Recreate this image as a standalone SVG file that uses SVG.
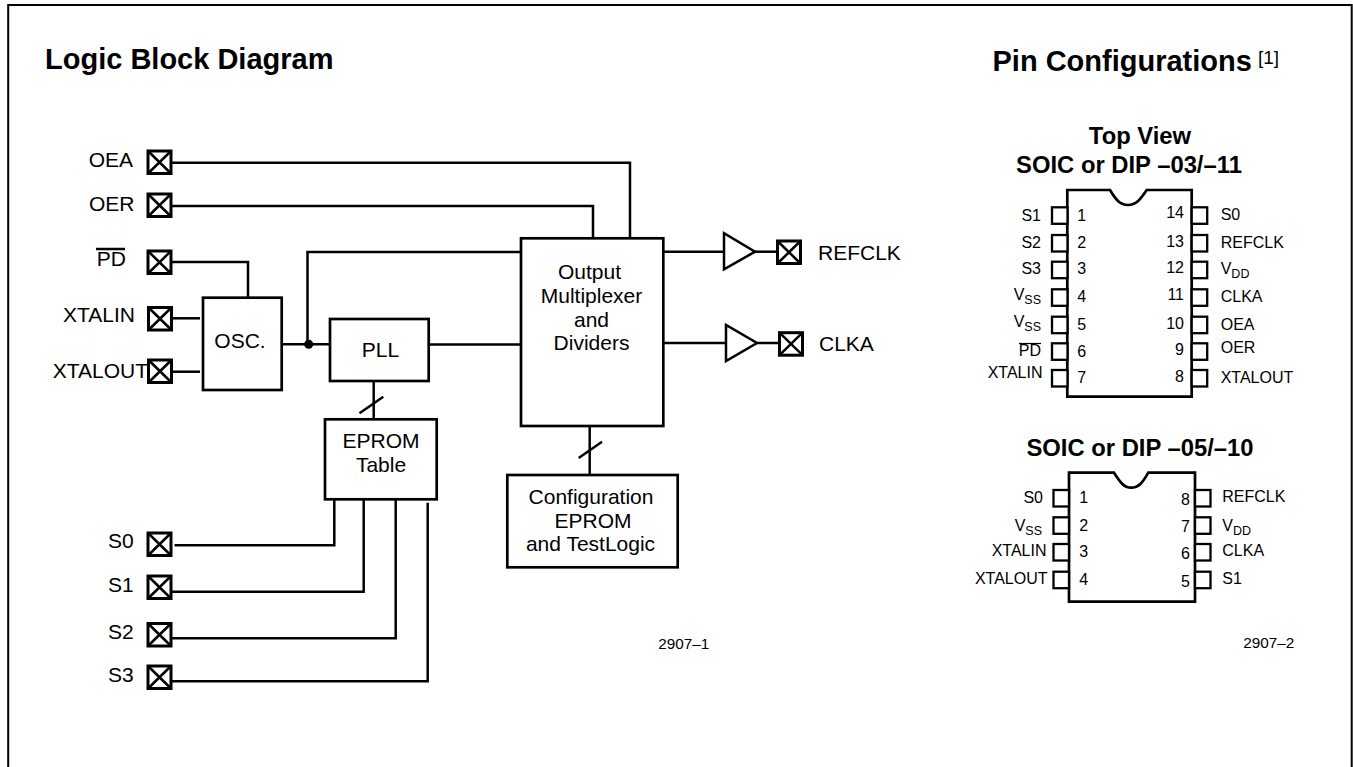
<svg xmlns="http://www.w3.org/2000/svg" width="1353" height="767" viewBox="0 0 1353 767">
<style>
text{font-family:"Liberation Sans",Arial,sans-serif;fill:#000}
.t{font-size:21px}
.c{text-anchor:middle}
.e{text-anchor:end}
.p{font-size:16px}
.n{font-size:15.3px}
.h{font-size:29px;font-weight:bold}
.h2{font-size:23.8px;font-weight:bold}
.b,.w{fill:#fff;stroke:#000;stroke-width:2.7}
.x rect{fill:#fff;stroke:#000;stroke-width:3}
.w{stroke-width:2.5}
.l,.x path{fill:none;stroke:#000;stroke-width:2.5}
.pin{fill:#fff;stroke:#000;stroke-width:2.3}
.s{font-size:12.5px}
</style>
<defs>
<g id="xp" class="x"><rect x="0" y="0" width="23" height="22.5"/><path d="M0 0L23 22.5M23 0L0 22.5"/></g>
<rect id="pn" class="pin" width="15.5" height="16.5"/>
</defs>
<rect x="8.2" y="5" width="1343.5" height="770" fill="#fff" stroke="#000" stroke-width="2"/>
<text class="h" x="45" y="69">Logic Block Diagram</text>
<text class="h" x="992.5" y="70.5">Pin Configurations</text>
<text x="1258" y="64" font-size="19">[1]</text>
<g id="connectors" class="l">
<path d="M171 162.7H630V238"/>
<path d="M171 206H593V238"/>
<path d="M171 262H248V298"/>
<path d="M172 318.3H200"/>
<path d="M172 371.7H200"/>
<path d="M282 344.3H330"/>
<path d="M307.5 344.3V252H521"/>
<path d="M429 344.5H521"/>
<path d="M373.7 381V419"/>
<path d="M359.5 413.3L383.3 396.7"/>
<path d="M174.5 545.3H334.3V499"/>
<path d="M171 591.7H363.7V499"/>
<path d="M171 638.3H395.7V498"/>
<path d="M171 681.3H427.7V502.7"/>
<path d="M663 251.7H724"/>
<path d="M755 251.7H777"/>
<path d="M663 343H726"/>
<path d="M757 343H779"/>
<path d="M589.7 426V475"/>
<path d="M578.7 458L602 441.7"/>
<circle cx="308.7" cy="344.3" r="4.5" fill="#000" stroke="none"/>
</g>
<g id="pin-oea"><text class="t e" x="133" y="167.3">OEA</text><use href="#xp" x="148" y="151"/></g>
<g id="pin-oer"><text class="t e" x="134.5" y="210.7">OER</text><use href="#xp" x="148" y="194"/></g>
<g id="pin-pd"><text class="t e" x="126" y="266">PD</text><path class="l" d="M96 249H125" stroke-width="1.5"/><use href="#xp" x="148" y="251"/></g>
<g id="pin-xtalin"><text class="t e" x="135" y="322">XTALIN</text><use href="#xp" x="148.5" y="307.5"/></g>
<g id="pin-xtalout"><text class="t e" x="148" y="378.3">XTALOUT</text><use href="#xp" x="148.5" y="360"/></g>
<g id="pin-s0"><text class="t e" x="133.7" y="548.3">S0</text><use href="#xp" x="148" y="533"/></g>
<g id="pin-s1"><text class="t e" x="133.7" y="591.7">S1</text><use href="#xp" x="148" y="576"/></g>
<g id="pin-s2"><text class="t e" x="133.7" y="639.3">S2</text><use href="#xp" x="148" y="623.5"/></g>
<g id="pin-s3"><text class="t e" x="133.7" y="682.3">S3</text><use href="#xp" x="148" y="666"/></g>
<g id="osc"><rect class="b" x="203" y="297.7" width="78.7" height="92.3"/><text class="t c" x="240" y="348.3">OSC.</text></g>
<g id="pll"><rect class="b" x="330" y="319" width="98.7" height="62"/><text class="t c" x="380.5" y="356.7">PLL</text></g>
<g id="eprom"><rect class="b" x="325" y="419.3" width="111.7" height="80"/><text class="t c" x="381" y="448.3">EPROM</text><text class="t c" x="381" y="471.7">Table</text></g>
<g id="mux"><rect class="b" x="521" y="238.3" width="142.3" height="187.7"/><text class="t c" x="589.5" y="279.3">Output</text><text class="t c" x="591.5" y="302.7">Multiplexer</text><text class="t c" x="591.5" y="326.7">and</text><text class="t c" x="591.5" y="350">Dividers</text></g>
<g id="config"><rect class="b" x="507.3" y="475" width="170.4" height="92.3"/><text class="t c" x="591" y="504">Configuration</text><text class="t c" x="593" y="527.7">EPROM</text><text class="t c" x="590.5" y="551">and TestLogic</text></g>
<g id="buf-refclk"><path class="w" d="M724 233.3V269.3L755 251.7Z"/></g>
<g id="buf-clka"><path class="w" d="M726 325V361L757 343Z"/></g>
<g id="pin-refclk"><use href="#xp" x="777.5" y="241"/><text class="t" x="818" y="260">REFCLK</text></g>
<g id="pin-clka"><use href="#xp" x="779.5" y="332.7"/><text class="t" x="819" y="351">CLKA</text></g>
<text class="n" x="658.3" y="648.7">2907–1</text>
<text class="h2 c" x="1140" y="144">Top View</text>
<text class="h2 c" x="1129" y="173.3">SOIC or DIP –03/–11</text>
<g id="chip14">
<path class="b" d="M1067.3 190H1110C1116 200 1120 205 1128 205C1136 205 1140 200 1146.7 190H1191.7V396.7H1067.3Z"/>
<use href="#pn" x="1052" y="207.3"/><use href="#pn" x="1052" y="235"/><use href="#pn" x="1052" y="261.7"/><use href="#pn" x="1052" y="289.3"/><use href="#pn" x="1052" y="316.7"/><use href="#pn" x="1052" y="343.3"/><use href="#pn" x="1052" y="370"/>
<use href="#pn" x="1191.7" y="207.3"/><use href="#pn" x="1191.7" y="235"/><use href="#pn" x="1191.7" y="261.7"/><use href="#pn" x="1191.7" y="289.3"/><use href="#pn" x="1191.7" y="316.7"/><use href="#pn" x="1191.7" y="343.3"/><use href="#pn" x="1191.7" y="370"/>
<g class="p">
<text class="p e" x="1041" y="220.7">S1</text><text class="p e" x="1041" y="247.7">S2</text><text class="p e" x="1041" y="274">S3</text>
<text class="p e" x="1041" y="300">V<tspan class="s" dy="4">SS</tspan></text><text class="p e" x="1041" y="327.3">V<tspan class="s" dy="4">SS</tspan></text>
<text class="p e" x="1041" y="356">PD</text><path class="l" d="M1019 343.5H1041" style="stroke-width:1.2"/>
<text class="p e" x="1042.5" y="378.3">XTALIN</text>
<text class="p" x="1077.3" y="220.7">1</text><text class="p" x="1077.3" y="248.3">2</text><text class="p" x="1077.3" y="274.3">3</text><text class="p" x="1077.3" y="302">4</text><text class="p" x="1077.3" y="330">5</text><text class="p" x="1077.3" y="356.7">6</text><text class="p" x="1077.3" y="383.3">7</text>
<text class="p e" x="1184" y="218.3">14</text><text class="p e" x="1184" y="246.7">13</text><text class="p e" x="1184" y="272.7">12</text><text class="p e" x="1184" y="300">11</text><text class="p e" x="1184" y="329">10</text><text class="p e" x="1184" y="355">9</text><text class="p e" x="1184" y="381.7">8</text>
<text class="p" x="1220.7" y="220">S0</text><text class="p" x="1220.7" y="247.7">REFCLK</text><text class="p" x="1220.7" y="274">V<tspan class="s" dy="4">DD</tspan></text><text class="p" x="1220.7" y="301.7">CLKA</text><text class="p" x="1220.7" y="330">OEA</text><text class="p" x="1220.7" y="352.7">OER</text><text class="p" x="1220.7" y="383.3">XTALOUT</text>
</g>
</g>
<text class="h2 c" x="1140" y="456">SOIC or DIP –05/–10</text>
<g id="chip8">
<path class="b" d="M1069 472.7H1114C1120 482 1124 487.7 1131 487.7C1139 487.7 1143 482 1148.3 472.7H1195V601.7H1069Z"/>
<use href="#pn" x="1053.5" y="490"/><use href="#pn" x="1053.5" y="517.3"/><use href="#pn" x="1053.5" y="544"/><use href="#pn" x="1053.5" y="571.7"/>
<use href="#pn" x="1195" y="490"/><use href="#pn" x="1195" y="517.3"/><use href="#pn" x="1195" y="544"/><use href="#pn" x="1195" y="571.7"/>
<text class="p e" x="1043" y="502.7">S0</text><text class="p e" x="1042" y="531">V<tspan class="s" dy="4">SS</tspan></text><text class="p e" x="1046.5" y="556">XTALIN</text><text class="p e" x="1047.5" y="584.3">XTALOUT</text>
<text class="p" x="1079.3" y="503.3">1</text><text class="p" x="1079.3" y="530.7">2</text><text class="p" x="1079.3" y="556.7">3</text><text class="p" x="1079.3" y="585">4</text>
<text class="p e" x="1190" y="505">8</text><text class="p e" x="1190" y="532.3">7</text><text class="p e" x="1190" y="559">6</text><text class="p e" x="1190" y="586.7">5</text>
<text class="p" x="1222.3" y="502.3">REFCLK</text><text class="p" x="1222.3" y="531">V<tspan class="s" dy="4">DD</tspan></text><text class="p" x="1222.3" y="556.3">CLKA</text><text class="p" x="1222.3" y="584.3">S1</text>
</g>
<text class="n" x="1243.3" y="648.3">2907–2</text>
</svg>
